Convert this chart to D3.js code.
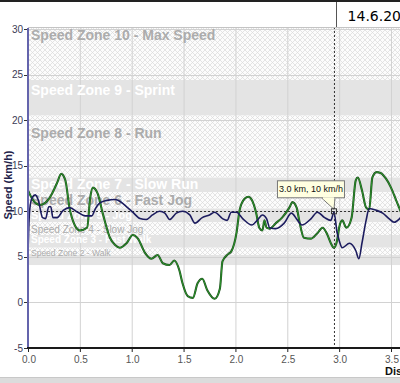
<!DOCTYPE html>
<html>
<head>
<meta charset="utf-8">
<script src="https://cdn.jsdelivr.net/npm/d3@7"></script>
<style>
  html, body { margin: 0; padding: 0; background: #fff; overflow: hidden; }
  svg { display: block; font-family: "Liberation Sans", Arial, sans-serif; }
</style>
</head>
<body>
<svg id="chart" width="400" height="383"></svg>
<script>
// ---- data ----
const titleText = "14.6.20";
const yTitle = "Speed (km/h)";
const xTitle = "Distance (km)";

const xTicks = [0, 0.5, 1.0, 1.5, 2.0, 2.5, 3.0, 3.5];
const yTicks = [-5, 0, 5, 10, 15, 20, 25, 30];

const zoneNames = [
    "Speed Zone 10 - Max Speed", "Speed Zone 9 - Sprint", "Speed Zone 8 - Run",
    "Speed Zone 7 - Slow Run", "Speed Zone 6 - Fast Jog", "Speed Zone 5 - Jog",
    "Speed Zone 4 - Slow Jog", "Speed Zone 3 - Fast Walk", "Speed Zone 2 - Walk", ""
];
const zoneHigh = [30.3, 24.4, 20.5, 13.7, 12.1, 10.3, 8.8, 7.4, 6.0, 5.2];
const zoneLow  = [24.4, 20.5, 13.7, 12.1, 10.3, 8.8, 7.4, 6.0, 5.2, 4.1];

const greenKm = [0.00, 0.05, 0.115, 0.21, 0.28, 0.32, 0.36, 0.40, 0.45, 0.50, 0.57, 0.60, 0.625, 0.67, 0.72,
    0.79, 0.84, 0.885, 0.95, 1.01, 1.06, 1.125, 1.19, 1.25, 1.30, 1.365, 1.41, 1.46, 1.49, 1.54, 1.59,
    1.635, 1.68, 1.73, 1.80, 1.85, 1.875, 1.93, 1.96, 2.01, 2.04, 2.09, 2.125, 2.16, 2.20, 2.23, 2.26,
    2.28, 2.30, 2.33, 2.39, 2.45, 2.52, 2.55, 2.59, 2.62, 2.66, 2.73, 2.79, 2.84, 2.88, 2.92, 2.95,
    2.98, 3.00, 3.03, 3.07, 3.12, 3.16, 3.18, 3.22, 3.26, 3.29, 3.32, 3.36, 3.40, 3.45, 3.50, 3.55, 3.60];
const greenSpeed = [12.3, 11.2, 10.7, 11.5, 13.1, 14.1, 13.4, 10.4, 8.5, 7.9, 8.2, 11.5, 12.6, 12.0, 9.8,
    7.1, 6.3, 6.0, 6.5, 7.4, 7.0, 5.5, 4.8, 5.2, 4.3, 4.1, 4.6, 3.5, 2.1, 0.7, 0.5,
    2.1, 2.6, 1.3, 0.4, 1.5, 4.5, 5.3, 5.6, 7.6, 10.1, 11.4, 11.6, 11.2, 9.8, 8.2, 7.9,
    9.0, 8.2, 8.1, 8.7, 9.3, 10.4, 11.0, 10.4, 8.7, 7.1, 7.0, 7.6, 8.2, 7.6, 6.5, 6.0,
    6.8, 8.2, 9.0, 8.2, 9.3, 13.4, 13.7, 12.3, 10.4, 10.2, 13.7, 14.3, 14.2, 13.6, 12.6, 11.2, 9.8];

const navyKm = [0.00, 0.015, 0.04, 0.07, 0.10, 0.14, 0.17, 0.20, 0.22, 0.24, 0.28, 0.34, 0.40, 0.48, 0.55,
    0.615, 0.65, 0.69, 0.76, 0.84, 0.885, 0.96, 1.01, 1.08, 1.14, 1.20, 1.27, 1.32, 1.365, 1.43, 1.49,
    1.56, 1.61, 1.68, 1.75, 1.80, 1.875, 1.92, 1.96, 2.01, 2.07, 2.16, 2.21, 2.26, 2.30, 2.33, 2.39,
    2.47, 2.54, 2.60, 2.64, 2.73, 2.79, 2.86, 2.92, 2.95, 2.98, 3.00, 3.03, 3.10, 3.16, 3.19, 3.22,
    3.26, 3.29, 3.36, 3.42, 3.48, 3.53, 3.60];
const navySpeed = [5.5, 10.0, 11.5, 11.8, 11.2, 9.3, 9.2, 10.5, 10.5, 9.3, 9.3, 10.1, 10.4, 9.9, 9.5,
    9.5, 10.3, 10.9, 11.2, 11.3, 11.1, 10.4, 9.9, 9.2, 9.1, 9.6, 10.0, 9.8, 9.1, 9.8, 10.0,
    9.6, 8.7, 9.3, 9.6, 9.9, 9.2, 9.0, 9.9, 9.9, 9.2, 8.5, 9.0, 9.6, 9.2, 8.2, 8.1,
    8.7, 9.8, 9.0, 8.5, 9.2, 9.9, 9.3, 9.0, 9.9, 7.7, 6.8, 6.0, 6.5, 5.7, 4.8, 6.5,
    9.0, 10.3, 10.1, 9.8, 9.2, 8.8, 9.4];

const cursorKm = 2.95;
const cursorSpeed = 10;
const tooltipText = "3.0 km, 10 km/h";

// ---- layout ----
const W = 400, H = 383;
const plotTop = 27, plotBottom = 348, plotLeft = 28, plotRight = 400;
const labelDy = [9, 10, 18, 7, 8, 7, 7, 5, 5, 5];
const labelSize = [14, 14, 14, 14, 14, 11, 10, 10, 8.5, 8];

const svg = d3.select("#chart");

const x = d3.scaleLinear().domain([0, 3.5]).range([28, 391]);
const y = d3.scaleLinear().domain([-5, 30]).range([348, 29]);

// hatch pattern
const defs = svg.append("defs");
const pat = defs.append("pattern")
    .attr("id", "hatch")
    .attr("patternUnits", "userSpaceOnUse")
    .attr("width", 5).attr("height", 5);
pat.append("rect").attr("width", 5).attr("height", 5).attr("fill", "#fcfcfc");
pat.append("path")
    .attr("d", "M0,0L5,5M5,0L0,5")
    .attr("stroke", "#dadada")
    .attr("stroke-width", 0.7);

defs.append("clipPath").attr("id", "plotClip")
    .append("rect")
    .attr("x", plotLeft).attr("y", plotTop)
    .attr("width", plotRight - plotLeft).attr("height", plotBottom - plotTop);

// header
svg.append("rect").attr("x", 0).attr("y", 0).attr("width", W).attr("height", 2).attr("fill", "#222");
svg.append("line")
    .attr("x1", 336.5).attr("x2", 336.5).attr("y1", 2).attr("y2", plotTop)
    .attr("stroke", "#555").attr("stroke-width", 1);
svg.append("text")
    .attr("x", 401).attr("y", 21)
    .attr("text-anchor", "end")
    .style("font-family", "'DejaVu Sans', Verdana, sans-serif")
    .style("font-size", "14px")
    .attr("fill", "#000")
    .text(titleText);

const plot = svg.append("g").attr("clip-path", "url(#plotClip)");

// zones
const zones = zoneNames.map((name, i) => ({ name, hi: zoneHigh[i], lo: zoneLow[i], i }));
plot.selectAll(".zone")
    .data(zones)
    .enter().append("rect")
    .attr("class", "zone")
    .attr("x", plotLeft)
    .attr("width", plotRight - plotLeft)
    .attr("y", d => y(d.hi))
    .attr("height", d => y(d.lo) - y(d.hi))
    .attr("fill", d => d.i % 2 === 0 ? "url(#hatch)" : "#e4e4e4");

// grid
plot.selectAll(".vgrid")
    .data(xTicks)
    .enter().append("line")
    .attr("x1", d => x(d) + 0.5).attr("x2", d => x(d) + 0.5)
    .attr("y1", plotTop).attr("y2", plotBottom)
    .attr("stroke", "#d2d2d2");
plot.selectAll(".hgrid")
    .data(yTicks)
    .enter().append("line")
    .attr("x1", plotLeft).attr("x2", plotRight)
    .attr("y1", d => Math.round(y(d)) + 0.5).attr("y2", d => Math.round(y(d)) + 0.5)
    .attr("stroke", "#d2d2d2");
svg.append("line")
    .attr("x1", plotLeft).attr("x2", plotRight)
    .attr("y1", plotTop + 0.5).attr("y2", plotTop + 0.5)
    .attr("stroke", "#c4c4c4");

// zone labels
plot.selectAll(".zlabel")
    .data(zones.filter(d => d.name))
    .enter().append("text")
    .attr("x", 31)
    .attr("y", d => y(d.hi) + labelDy[d.i])
    .attr("dy", "0.35em")
    .style("font-size", d => labelSize[d.i] + "px")
    .style("font-weight", d => (d.i === 6 || d.i === 8) ? "normal" : "bold")
    .attr("fill", d => d.i % 2 === 0 ? "#acacac" : "#ffffff")
    .text(d => d.name);

// crosshair
plot.append("line")
    .attr("x1", x(cursorKm) + 0.5).attr("x2", x(cursorKm) + 0.5)
    .attr("y1", plotTop).attr("y2", plotBottom)
    .attr("stroke", "#333").attr("stroke-dasharray", "2,2");
plot.append("line")
    .attr("x1", plotLeft).attr("x2", plotRight)
    .attr("y1", Math.round(y(cursorSpeed)) + 0.5).attr("y2", Math.round(y(cursorSpeed)) + 0.5)
    .attr("stroke", "#333").attr("stroke-dasharray", "2,2");

// series
const line = d3.line()
    .x(d => x(d[0]))
    .y(d => y(d[1]))
    .curve(d3.curveMonotoneX);

const green = greenKm.map((k, i) => [k, greenSpeed[i]]);
const navy = navyKm.map((k, i) => [k, navySpeed[i]]);

plot.append("path").datum(green)
    .attr("fill", "none").attr("stroke", "#1d4f1d").attr("stroke-width", 2.1)
    .attr("d", line);
plot.append("path").datum(green)
    .attr("fill", "none").attr("stroke", "#2f9f2f").attr("stroke-width", 0.9)
    .attr("d", line);
plot.append("path").datum(navy)
    .attr("fill", "none").attr("stroke", "#1b1b5e").attr("stroke-width", 1.6)
    .attr("d", line);

// tooltip
const cx = x(cursorKm), cy = y(cursorSpeed);
const tip = svg.append("g");
tip.append("path")
    .attr("d", `M${cx - 12},${cy - 13}L${cx},${cy - 2}L${cx + 1},${cy - 13}`)
    .attr("fill", "#ffffe1").attr("stroke", "#777");
tip.append("rect")
    .attr("x", cx - 56.5).attr("y", cy - 30.5)
    .attr("width", 67).attr("height", 17)
    .attr("fill", "#ffffe1").attr("stroke", "#777");
tip.append("rect")
    .attr("x", cx - 11).attr("y", cy - 14).attr("width", 11).attr("height", 2)
    .attr("fill", "#ffffe1");
tip.append("text")
    .attr("x", cx - 23).attr("y", cy - 22)
    .attr("dy", "0.35em")
    .attr("text-anchor", "middle")
    .style("font-size", "9px")
    .attr("fill", "#111")
    .text(tooltipText);
tip.append("rect")
    .attr("x", cx - 2.5).attr("y", cy - 2.5).attr("width", 5).attr("height", 5)
    .attr("fill", "none").attr("stroke", "#333");

// y axis
const yAxisG = svg.append("g");
yAxisG.selectAll(".ytick")
    .data(yTicks)
    .enter().append("line")
    .attr("x1", 24).attr("x2", 28)
    .attr("y1", d => Math.round(y(d)) + 0.5).attr("y2", d => Math.round(y(d)) + 0.5)
    .attr("stroke", "#333");
yAxisG.selectAll(".ylab")
    .data(yTicks)
    .enter().append("text")
    .attr("x", 23).attr("y", d => y(d))
    .attr("dy", "0.35em")
    .attr("text-anchor", "end")
    .style("font-size", "10px")
    .attr("fill", "#3b3b55")
    .text(d => d);
svg.append("rect")
    .attr("x", 27).attr("y", 28).attr("width", 2).attr("height", plotBottom - 28)
    .attr("fill", "#6464ac");

// x axis
svg.append("rect")
    .attr("x", 27).attr("y", plotBottom - 1).attr("width", W - 27).attr("height", 2)
    .attr("fill", "#1a1a1a");
svg.selectAll(".xtick")
    .data(xTicks)
    .enter().append("line")
    .attr("x1", d => x(d) + 0.5).attr("x2", d => x(d) + 0.5)
    .attr("y1", plotBottom).attr("y2", plotBottom + 4)
    .attr("stroke", "#222");
svg.selectAll(".xlab")
    .data(xTicks)
    .enter().append("text")
    .attr("x", d => x(d) + 1).attr("y", 359)
    .attr("dy", "0.35em")
    .attr("text-anchor", "middle")
    .style("font-size", "10px")
    .attr("fill", "#555")
    .text(d => d.toFixed(1));

// axis titles
svg.append("text")
    .attr("transform", "translate(12,185) rotate(-90)")
    .attr("text-anchor", "middle")
    .style("font-size", "11px")
    .style("font-weight", "bold")
    .attr("fill", "#22224a")
    .text(yTitle);
svg.append("text")
    .attr("x", 385).attr("y", 375)
    .style("font-size", "11px")
    .style("font-weight", "bold")
    .attr("fill", "#111")
    .text(xTitle);

// bottom strip
svg.append("rect")
    .attr("x", 0).attr("y", 378).attr("width", W).attr("height", 5)
    .attr("fill", "#dcdcdc");
svg.append("line")
    .attr("x1", 0).attr("x2", W).attr("y1", 377.5).attr("y2", 377.5)
    .attr("stroke", "#c8c8c8");
</script>
</body>
</html>
